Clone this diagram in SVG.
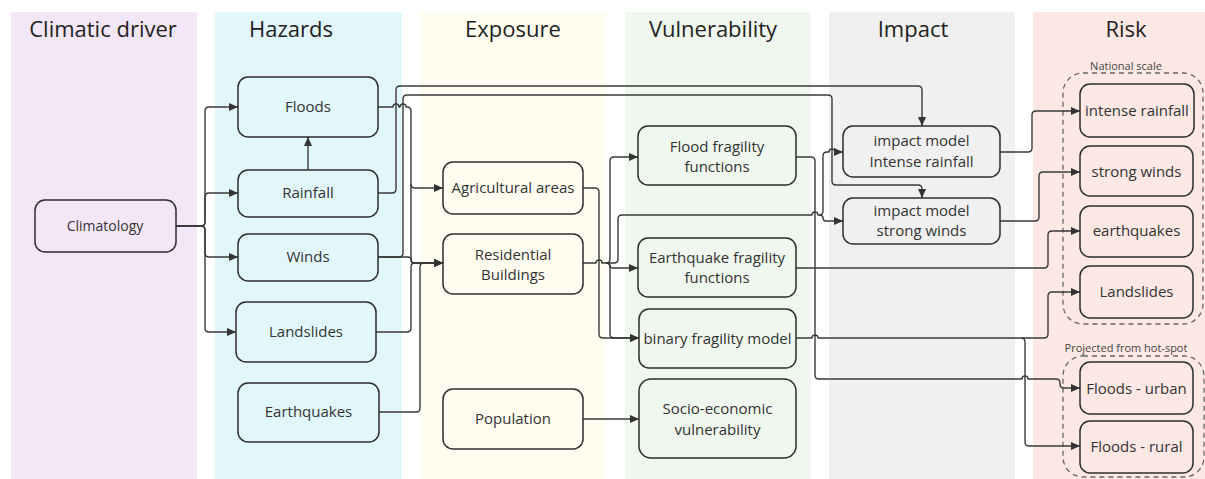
<svg xmlns="http://www.w3.org/2000/svg" width="1205" height="479" viewBox="0 0 1205 479">
<style>
.col{stroke:none}
.hdr{font-family:"Open Sans","Liberation Sans",sans-serif;font-size:22px;fill:#222;text-anchor:middle}
.nd{stroke:#2e2e2e;stroke-width:1.5}
.t{font-family:"Open Sans","Liberation Sans",sans-serif;font-size:15px;fill:#333;text-anchor:middle}
.sm{font-family:"Open Sans","Liberation Sans",sans-serif;font-size:11px;fill:#444;text-anchor:middle}
.c{fill:none;stroke:#3a3a3a;stroke-width:1.4;stroke-linejoin:round}
.grp{fill:none;stroke:#666;stroke-width:1.3;stroke-dasharray:5 4}
.pu{fill:#F3E6F6}.cy{fill:#E2F7FA}.ye{fill:#FEFDF0}.gr{fill:#F0F7EE}.gy{fill:#F0F0F0}.pk{fill:#FDE8E4}
</style>
<defs>
<marker id="ah" markerUnits="userSpaceOnUse" markerWidth="10" markerHeight="8" refX="9" refY="4" orient="auto">
<path d="M0,0 L9,4 L0,8 z" fill="#333"/>
</marker>
</defs>
<g id="columns">
<rect class="col pu" x="11" y="12" width="186" height="467"/>
<rect class="col cy" x="215" y="12" width="187" height="467"/>
<rect class="col ye" x="420" y="12" width="186" height="467"/>
<rect class="col gr" x="625" y="12" width="186" height="467"/>
<rect class="col gy" x="829" y="12" width="186" height="467"/>
<rect class="col pk" x="1033" y="12" width="172" height="467"/>
<text class="hdr" x="103" y="37">Climatic driver</text>
<text class="hdr" x="291" y="37">Hazards</text>
<text class="hdr" x="513" y="37">Exposure</text>
<text class="hdr" x="713" y="37">Vulnerability</text>
<text class="hdr" x="913" y="37">Impact</text>
<text class="hdr" x="1126" y="37">Risk</text>
</g>
<g id="groups">
<rect class="grp" x="1063" y="73" width="140" height="251" rx="20"/>
<text class="sm" x="1126" y="70">National scale</text>
<rect class="grp" x="1063" y="356" width="141" height="121" rx="20"/>
<text class="sm" x="1126" y="352">Projected from hot-spot</text>
</g>
<g id="connectors" marker-end="url(#ah)">
<path class="c" d="M176,226 H201 Q205,226 205,222 V111 Q205,107 209,107 H238" marker-end="url(#ah)"/>
<path class="c" d="M176,226 H201 Q205,226 205,222 V197 Q205,193 209,193 H238" marker-end="url(#ah)"/>
<path class="c" d="M176,226 H201 Q205,226 205,230 V253 Q205,257 209,257 H238" marker-end="url(#ah)"/>
<path class="c" d="M176,226 H201 Q205,226 205,230 V328 Q205,332 209,332 H236" marker-end="url(#ah)"/>
<path class="c" d="M308,170 V137" marker-end="url(#ah)"/>
<path class="c" d="M378,193 H392 Q396,193 396,189 V90 Q396,86 400,86 H918 Q922,86 922,90 V126" marker-end="url(#ah)"/>
<path class="c" d="M378,257 H399 Q403,257 403,253 V99 Q403,95 407,95 H828 Q832,95 832,99 V181 Q832,185 836,185 H918 Q922,185 922,189 V198" marker-end="url(#ah)"/>
<path class="c" d="M378,107 H393 A3,3 0 0 1 399,107 H400 A3,3 0 0 1 406,107 H407 Q411,107 411,111 V184 Q411,188 415,188 H443" marker-end="url(#ah)"/>
<path class="c" d="M411,184 V259 Q411,263 415,263 H443" marker-end="url(#ah)"/>
<path class="c" d="M378,257 H408 Q411,257 411,260 Q411,263 414,263 H443" marker-end="url(#ah)"/>
<path class="c" d="M376,332 H407 Q411,332 411,328 V267 Q411,263 415,263 H443" marker-end="url(#ah)"/>
<path class="c" d="M379,412 H416 Q420,412 420,408 V267 Q420,263 424,263 H443" marker-end="url(#ah)"/>
<path class="c" d="M583,188 H595 Q599,188 599,192 V334 Q599,338 603,338 H639" marker-end="url(#ah)"/>
<path class="c" d="M583,263 H596 A3,3 0 0 1 602,263 H606 Q610,263 610,259 V161 Q610,157 614,157 H638" marker-end="url(#ah)"/>
<path class="c" d="M606,263 Q610,263 610,266 Q610,268 613,268 H638" marker-end="url(#ah)"/>
<path class="c" d="M606,263 Q610,263 610,267 V334 Q610,338 614,338 H639" marker-end="url(#ah)"/>
<path class="c" d="M606,263 H614 Q618,263 618,259 V219 Q618,215 622,215 H812 A3,3 0 0 1 818,215 H819 Q823,215 823,211 V156 Q823,152 827,152 H829 A3,3 0 0 1 835,152 H843" marker-end="url(#ah)"/>
<path class="c" d="M819,215 Q823,215 823,218 Q823,221 826,221 H843" marker-end="url(#ah)"/>
<path class="c" d="M796,157 H811 Q815,157 815,161 V375 Q815,379 819,379 H1022 A3,3 0 0 1 1028,379 H1056 Q1060,379 1060,383 V384 Q1060,388 1064,388 H1080" marker-end="url(#ah)"/>
<path class="c" d="M796,268 H1044 Q1048,268 1048,264 V235 Q1048,231 1052,231 H1080" marker-end="url(#ah)"/>
<path class="c" d="M796,338 H812 A3,3 0 0 1 818,338 H1044 Q1048,338 1048,334 V296 Q1048,292 1052,292 H1080" marker-end="url(#ah)"/>
<path class="c" d="M1021,338 Q1025,338 1025,342 V442 Q1025,446 1029,446 H1080" marker-end="url(#ah)"/>
<path class="c" d="M1000,152 H1028 Q1032,152 1032,148 V115 Q1032,111 1036,111 H1080" marker-end="url(#ah)"/>
<path class="c" d="M1000,221 H1035 Q1039,221 1039,217 V176 Q1039,172 1043,172 H1080" marker-end="url(#ah)"/>
<path class="c" d="M583,419 H639" marker-end="url(#ah)"/>
</g>
<g id="climatology"><rect class="nd pu" x="35" y="200" width="141" height="52" rx="10"/><text class="t" x="105" y="231" style="font-size:14px">Climatology</text></g>
<g id="floods"><rect class="nd cy" x="238" y="77" width="140" height="60" rx="10"/><text class="t" x="308" y="112">Floods</text></g>
<g id="rainfall"><rect class="nd cy" x="238" y="170" width="140" height="47" rx="10"/><text class="t" x="308" y="198">Rainfall</text></g>
<g id="winds"><rect class="nd cy" x="238" y="234" width="140" height="47" rx="10"/><text class="t" x="308" y="262">Winds</text></g>
<g id="landslides"><rect class="nd cy" x="236" y="302" width="140" height="60" rx="10"/><text class="t" x="306" y="337">Landslides</text></g>
<g id="earthquakes"><rect class="nd cy" x="238" y="383" width="141" height="59" rx="10"/><text class="t" x="308.5" y="417">Earthquakes</text></g>
<g id="agricultural"><rect class="nd ye" x="443" y="162" width="140" height="52" rx="10"/><text class="t" x="513" y="193">Agricultural areas</text></g>
<g id="residential"><rect class="nd ye" x="443" y="234" width="140" height="60" rx="10"/><text class="t" x="513" y="260">Residential</text><text class="t" x="513" y="280">Buildings</text></g>
<g id="population"><rect class="nd ye" x="443" y="389" width="140" height="60" rx="10"/><text class="t" x="513" y="424">Population</text></g>
<g id="flood-fragility"><rect class="nd gr" x="638" y="126" width="158" height="59" rx="10"/><text class="t" x="717" y="152">Flood fragility</text><text class="t" x="717" y="172">functions</text></g>
<g id="eq-fragility"><rect class="nd gr" x="638" y="238" width="158" height="59" rx="10"/><text class="t" x="717" y="263">Earthquake fragility</text><text class="t" x="717" y="283">functions</text></g>
<g id="binary"><rect class="nd gr" x="639" y="309" width="157" height="59" rx="10"/><text class="t" x="717.5" y="344">binary fragility model</text></g>
<g id="socio"><rect class="nd gr" x="639" y="379" width="157" height="79" rx="12"/><text class="t" x="717.5" y="414">Socio-economic</text><text class="t" x="717.5" y="435">vulnerability</text></g>
<g id="impact-rainfall"><rect class="nd gy" x="843" y="126" width="157" height="51" rx="10"/><text class="t" x="921.5" y="146">impact model</text><text class="t" x="921.5" y="167">Intense rainfall</text></g>
<g id="impact-winds"><rect class="nd gy" x="843" y="198" width="157" height="46" rx="10"/><text class="t" x="921.5" y="216">impact model</text><text class="t" x="921.5" y="236">strong winds</text></g>
<g id="risk-rainfall"><rect class="nd pk" x="1080" y="84" width="114" height="53" rx="10"/><text class="t" x="1137" y="116">intense rainfall</text></g>
<g id="risk-winds"><rect class="nd pk" x="1080" y="146" width="113" height="50" rx="10"/><text class="t" x="1136.5" y="177">strong winds</text></g>
<g id="risk-earthquakes"><rect class="nd pk" x="1080" y="206" width="113" height="51" rx="10"/><text class="t" x="1136.5" y="236">earthquakes</text></g>
<g id="risk-landslides"><rect class="nd pk" x="1080" y="266" width="113" height="52" rx="10"/><text class="t" x="1136.5" y="297">Landslides</text></g>
<g id="risk-floods-urban"><rect class="nd pk" x="1080" y="362" width="113" height="52" rx="10"/><text class="t" x="1136.5" y="394">Floods - urban</text></g>
<g id="risk-floods-rural"><rect class="nd pk" x="1080" y="421" width="113" height="52" rx="10"/><text class="t" x="1136.5" y="452">Floods - rural</text></g>
</svg>
